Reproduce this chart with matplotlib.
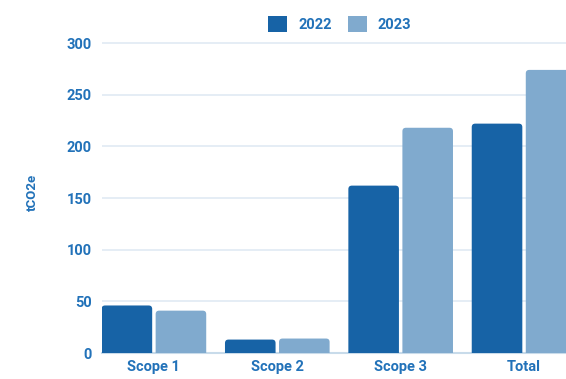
import matplotlib.pyplot as plt
import numpy as np
from matplotlib.patches import FancyBboxPatch, Patch

# emissions by scope, tCO2e
categories = ["Scope 1", "Scope 2", "Scope 3", "Total"]
years = ["2022", "2023"]
values_2022 = [46, 13, 162, 222]
values_2023 = [41, 14, 218, 274]
y_ticks = [0, 50, 100, 150, 200, 250, 300]

DARK = "#1763a6"
LIGHT = "#80aace"
TEXT = "#2272b9"
GRID = "#e3ecf5"

plt.rcParams["font.family"] = ["Roboto", "DejaVu Sans"]

fig = plt.figure(figsize=(5.66, 3.79), dpi=100)
ax = fig.add_axes([0.1795, 0.0686, 0.8205, 0.8451])
ax.set_xlim(-0.424, 3.34)
ax.set_ylim(0, 310)

# rounded bar tops: work out the data aspect so corners stay circular
bbox = ax.get_window_extent()
px_x = bbox.width / (3.34 + 0.424)
px_y = bbox.height / 310
aspect = px_x / px_y
radius = 3.5 / px_x

x = np.arange(len(categories))
w = 0.41
off = 0.219
for vals, dx, color in [(values_2022, -off, DARK), (values_2023, off, LIGHT)]:
    for xi, v in zip(x + dx, vals):
        bar = FancyBboxPatch((xi - w / 2, -10), w, v + 10,
                             boxstyle=f"round,pad=0,rounding_size={radius}",
                             mutation_aspect=aspect,
                             fc=color, ec="none", zorder=3)
        ax.add_patch(bar)

ax.set_xticks(x)
ax.set_xticklabels(categories, fontweight="bold")
ax.set_yticks(y_ticks)
ax.set_yticklabels([str(t) for t in y_ticks], fontweight="bold")
ax.tick_params(axis="both", length=0, labelcolor=TEXT, labelsize=10.5)
ax.tick_params(axis="y", pad=7)
ax.tick_params(axis="x", pad=5)

ax.grid(axis="y", color=GRID, lw=1.3)
ax.set_axisbelow(True)
for s in ["top", "right", "left"]:
    ax.spines[s].set_visible(False)
ax.spines["bottom"].set_color("#c8dbea")
ax.spines["bottom"].set_linewidth(1.5)

ax.set_ylabel("tCO2e", color=TEXT, fontsize=9.5, fontweight="bold", labelpad=20)

handles = [Patch(fc=DARK, ec="none"), Patch(fc=LIGHT, ec="none")]
fig.legend(handles, years, loc="center", bbox_to_anchor=(0.6, 0.936), ncol=2,
           frameon=False, handlelength=1.3, handleheight=1.3,
           handletextpad=0.75, columnspacing=1.1, labelcolor=TEXT,
           prop={"weight": "bold", "size": 10.5})

fig.savefig("out.png", dpi=100)
